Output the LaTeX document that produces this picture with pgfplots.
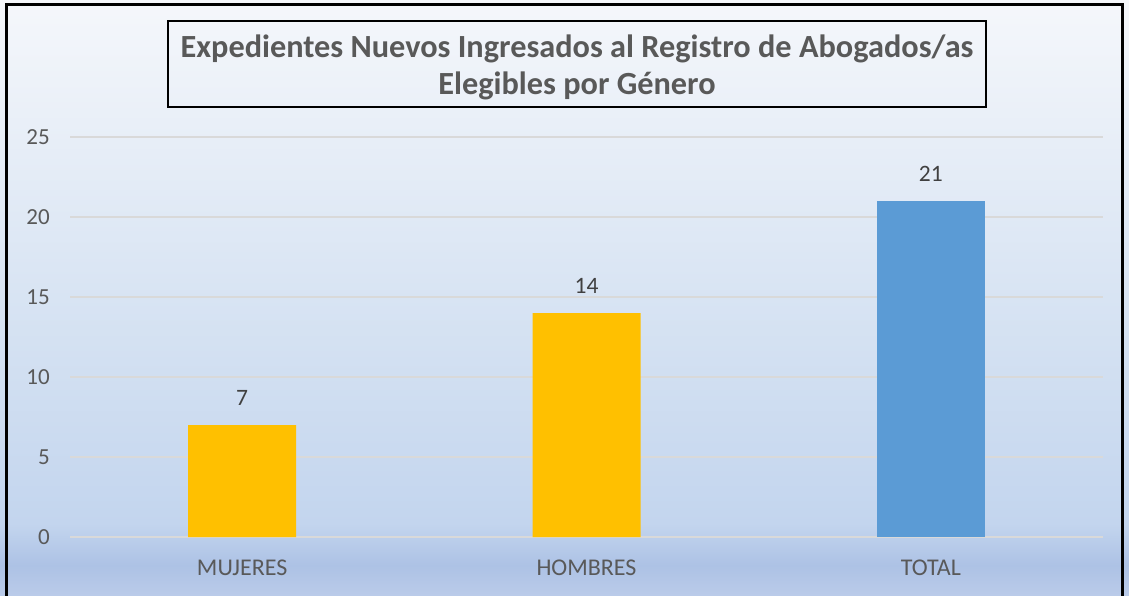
\documentclass[border=0pt]{standalone}
\usepackage{pgfplots}
\pgfplotsset{compat=1.18}
\usepackage{fontspec}
\setmainfont{Carlito}
\definecolor{gold}{HTML}{FFC000}
\definecolor{blu}{HTML}{5B9BD5}
\definecolor{txt}{HTML}{595959}
\definecolor{txtd}{HTML}{404040}
\definecolor{gridc}{HTML}{D9D9D9}
\definecolor{bgA}{HTML}{BACBE9}
\definecolor{bgB}{HTML}{ADC2E5}
\definecolor{bgC}{HTML}{C3D5EE}
\definecolor{bgD}{HTML}{D8E4F3}
\definecolor{bgE}{HTML}{F5F7FB}
\pgfdeclareverticalshading{bgshade}{100bp}{color(0bp)=(bgA); color(25bp)=(bgA); color(27.5bp)=(bgB); color(31bp)=(bgC); color(50bp)=(bgD); color(75bp)=(bgE); color(100bp)=(bgE)}
\begin{document}
\begin{tikzpicture}[x=1pt,y=1pt]
\useasboundingbox (0,0) rectangle (1129,595);
\shade[shading=bgshade] (0,0) rectangle (1129,595);
\begin{axis}[
  at={(70pt,58pt)}, anchor=south west,
  scale only axis, width=1033pt, height=400pt,
  xmin=-0.5, xmax=2.5, ymin=0, ymax=25,
  axis line style={draw=none},
  /pgf/number format/assume math mode=true,
  ytick={0,5,10,15,20,25},
  xtick={0,1,2}, xticklabels={MUJERES,HOMBRES,TOTAL},
  ymajorgrids, grid style={color=gridc, line width=1.5pt},
  major tick length=0pt,
  tick style={draw=none},
  tick label style={font=\fontsize{23}{25}\selectfont, text=txt, inner sep=0pt},
  yticklabel style={anchor=base east, xshift=-20pt, yshift=-7.5pt},
  xticklabel style={font=\fontsize{24}{26}\selectfont, anchor=base, yshift=-38pt},
  ybar, bar width=108pt,
  nodes near coords={\pgfmathprintnumber{\pgfplotspointmeta}},
  nodes near coords style={font=\fontsize{23.5}{25}\selectfont, text=txtd, anchor=base, inner sep=0pt, yshift=20pt},
]
\addplot[fill=gold, draw=none, bar shift=0pt] coordinates {(0,7) (1,14)};
\addplot[fill=blu, draw=none, bar shift=0pt] coordinates {(2,21)};
\end{axis}
\draw[black, line width=2.5pt] (168,488) rectangle (986,574);
\node[align=center, inner sep=0pt,
  font=\bfseries\fontsize{32.3}{37}\selectfont, text=txt] at (577,528)
  {Expedientes Nuevos Ingresados al Registro de Abogados/as\\Elegibles por Género};
\draw[line width=3pt] (6.5,-5) -- (6.5,590.5) -- (1122.5,590.5) -- (1122.5,-5);
\end{tikzpicture}
\end{document}
